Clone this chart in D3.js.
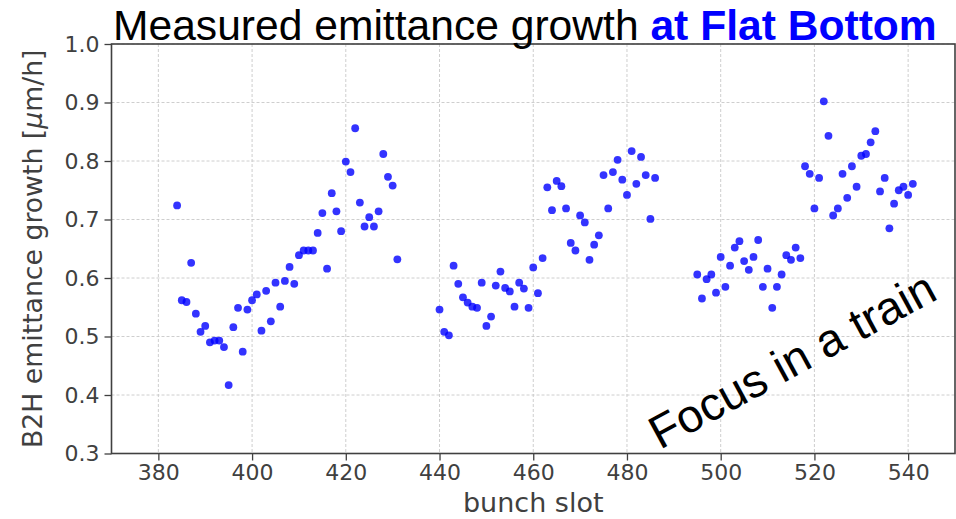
<!DOCTYPE html>
<html>
<head>
<meta charset="utf-8">
<script src="https://cdn.jsdelivr.net/npm/d3@7"></script>
<style>
  html, body { margin: 0; padding: 0; background: #fff; }
  svg { display: block; }
</style>
</head>
<body>
<svg id="chart" width="956" height="519"></svg>
<script>
// ---- data ----
const slotsA = [384,385,386,387,388,389,390,391,392,393,394,395,396,397,398,399,400,401,402,403,404,405,406,407,408,409,410,411,412,413,414,415,416,417,418,419,420,421,422,423,424,425,426,427,428,429,430,431];
const valuesA = [0.724,0.562,0.559,0.626,0.539,0.508,0.518,0.490,0.493,0.493,0.482,0.417,0.516,0.549,0.474,0.546,0.562,0.572,0.510,0.578,0.526,0.592,0.551,0.595,0.619,0.590,0.639,0.647,0.647,0.647,0.677,0.711,0.616,0.745,0.714,0.680,0.799,0.781,0.856,0.729,0.688,0.704,0.688,0.714,0.812,0.773,0.758,0.632];
const slotsB = [440,441,442,443,444,445,446,447,448,449,450,451,452,453,454,455,456,457,458,459,460,461,462,463,464,465,466,467,468,469,470,471,472,473,474,475,476,477,478,479,480,481,482,483,484,485,486];
const valuesB = [0.546,0.508,0.502,0.621,0.590,0.567,0.558,0.551,0.549,0.592,0.518,0.534,0.587,0.611,0.583,0.577,0.551,0.592,0.582,0.549,0.618,0.574,0.634,0.755,0.716,0.766,0.757,0.719,0.660,0.647,0.707,0.695,0.631,0.657,0.673,0.776,0.719,0.781,0.802,0.768,0.742,0.817,0.761,0.807,0.776,0.701,0.771];
const slotsC = [495,496,497,498,499,500,501,502,503,504,505,506,507,508,509,510,511,512,513,514,515,516,517,518,519,520,521,522,523,524,525,526,527,528,529,530,531,532,533,534,535,536,537,538,539,540,541];
const valuesC = [0.606,0.565,0.598,0.606,0.575,0.636,0.585,0.621,0.652,0.663,0.629,0.614,0.636,0.665,0.585,0.616,0.549,0.585,0.606,0.639,0.631,0.652,0.634,0.791,0.778,0.719,0.771,0.902,0.843,0.707,0.719,0.778,0.737,0.791,0.756,0.809,0.812,0.832,0.851,0.748,0.771,0.685,0.727,0.750,0.756,0.742,0.761];
const xTicks = [380,400,420,440,460,480,500,520,540];
const yTicks = [0.3,0.4,0.5,0.6,0.7,0.8,0.9,1.0];
const titlePlain = "Measured emittance growth ";
const titleBold = "at Flat Bottom";
const xLabel = "bunch slot";
const annotation = "Focus in a train";

const points = [];
[[slotsA, valuesA], [slotsB, valuesB], [slotsC, valuesC]].forEach(([s, v]) => {
  s.forEach((d, i) => points.push({slot: d, value: v[i]}));
});

// ---- layout ----
const svg = d3.select("#chart");
const L = 111.5, R = 955, T = 44, B = 453.5;
const x = d3.scaleLinear().domain([370, 550]).range([L, R]);
const y = d3.scaleLinear().domain([0.3, 1.0]).range([B, T]);
const axisColor = "#404040";

// grid
const grid = svg.append("g");
grid.selectAll("line.gx").data(xTicks).enter().append("line")
  .attr("x1", d => x(d)).attr("x2", d => x(d)).attr("y1", T).attr("y2", B)
  .attr("stroke", "#c8c8c8").attr("stroke-width", 0.9).attr("stroke-dasharray", "3,2");
grid.selectAll("line.gy").data(yTicks).enter().append("line")
  .attr("x1", L).attr("x2", R).attr("y1", d => y(d)).attr("y2", d => y(d))
  .attr("stroke", "#c8c8c8").attr("stroke-width", 0.9).attr("stroke-dasharray", "3,2");

// points
svg.append("g").selectAll("circle").data(points).enter().append("circle")
  .attr("cx", d => x(d.slot)).attr("cy", d => y(d.value)).attr("r", 3.9)
  .attr("fill", "#0000ff").attr("fill-opacity", 0.8);

// axes
const xAxis = d3.axisBottom(x).tickValues(xTicks).tickSize(7).tickPadding(4).tickFormat(d3.format("d"));
const yAxis = d3.axisLeft(y).tickValues(yTicks).tickSize(7).tickPadding(5).tickFormat(d3.format(".1f"));
const gx = svg.append("g").attr("transform", `translate(0,${B})`).call(xAxis);
const gy = svg.append("g").attr("transform", `translate(${L},0)`).call(yAxis);
[gx, gy].forEach(g => {
  g.select(".domain").remove();
  g.selectAll(".tick line").attr("stroke", axisColor).attr("stroke-width", 1.3);
  g.selectAll(".tick text").attr("fill", axisColor)
    .style("font-family", "'DejaVu Sans', sans-serif").style("font-size", "22px");
});

// frame
svg.append("rect").attr("x", L).attr("y", T).attr("width", R - L).attr("height", B - T)
  .attr("fill", "none").attr("stroke", axisColor).attr("stroke-width", 1.6);

// axis labels
svg.append("text").attr("x", (L + R) / 2).attr("y", 512).attr("text-anchor", "middle")
  .attr("fill", axisColor).style("font-family", "'DejaVu Sans', sans-serif").style("font-size", "27px")
  .text(xLabel);
const yl = svg.append("text").attr("transform", `translate(42,${(T + B) / 2}) rotate(-90)`)
  .attr("text-anchor", "middle").attr("fill", axisColor)
  .style("font-family", "'DejaVu Sans', sans-serif").style("font-size", "26.7px");
yl.append("tspan").text("B2H emittance growth [");
yl.append("tspan").style("font-style", "italic").text("μ");
yl.append("tspan").text("m/h]");

// title
const title = svg.append("text").attr("x", 113).attr("y", 40)
  .style("font-family", "'Liberation Sans', Arial, sans-serif").style("font-size", "42.6px");
title.append("tspan").attr("fill", "#000").text(titlePlain);
title.append("tspan").attr("fill", "#0000ff").style("font-weight", "bold").text(titleBold);

// annotation
svg.append("text").attr("transform", "translate(660,450) rotate(-28.5)")
  .attr("fill", "#000").style("font-family", "'Liberation Sans', Arial, sans-serif").style("font-size", "46.5px")
  .text(annotation);
</script>
</body>
</html>
